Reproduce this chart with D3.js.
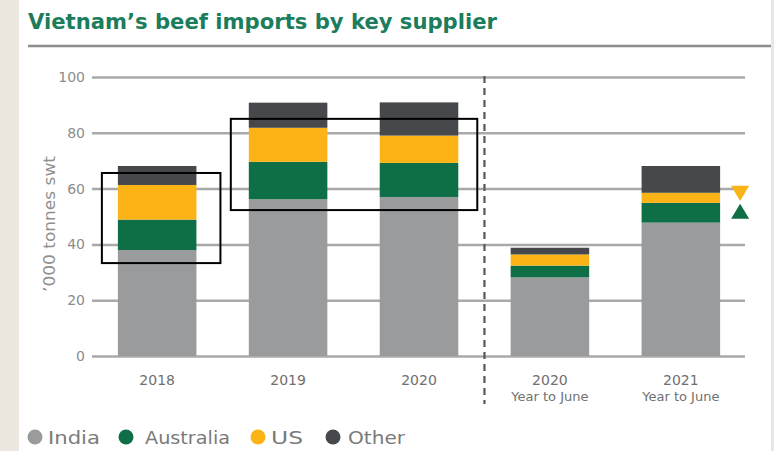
<!DOCTYPE html>
<html>
<head>
<meta charset="utf-8">
<script src="https://cdn.jsdelivr.net/npm/d3@7"></script>
<style>
  html, body { margin: 0; padding: 0; background: #fff; }
  svg { display: block; }
</style>
</head>
<body>
<svg id="chart" width="774" height="451"></svg>
<script>
// Vietnam's beef imports, '000 tonnes swt, stacked by supplier
const categories = ["2018", "2019", "2020", "2020|Year to June", "2021|Year to June"];
const suppliers = ["India", "Australia", "US", "Other"];
const india     = [38.0, 56.2, 57.0, 28.2, 47.8];
const australia = [10.9, 13.4, 12.2, 4.2, 7.1];
const us        = [12.4, 12.2, 9.8, 4.0, 3.6];
const other     = [6.8, 9.0, 11.9, 2.4, 9.6];
const yTicks = [0, 20, 40, 60, 80, 100];
const colors = ["#9a9b9d", "#0e6f47", "#fbb316", "#46484c"];

const W = 774, H = 451;
const svg = d3.select("#chart");
const font = "'DejaVu Sans', Verdana, sans-serif";

// page frame: beige side margins
svg.append("rect").attr("width", W).attr("height", H).attr("fill", "#fff");
svg.append("rect").attr("x", 0).attr("y", 0).attr("width", 19).attr("height", H).attr("fill", "#ebe7df");
svg.append("rect").attr("x", 771).attr("y", 0).attr("width", 3).attr("height", H).attr("fill", "#ebe7df");

// title and rule
svg.append("text")
  .attr("x", 28).attr("y", 29)
  .attr("font-family", font).attr("font-weight", "bold").attr("font-size", 22)
  .attr("fill", "#1b7d5c")
  .attr("textLength", 469).attr("lengthAdjust", "spacingAndGlyphs")
  .text("Vietnam\u2019s beef imports by key supplier");
svg.append("line")
  .attr("x1", 28).attr("x2", 771).attr("y1", 46).attr("y2", 46)
  .attr("stroke", "#8d8d8d").attr("stroke-width", 2.5);

// scales
const x = d3.scaleBand().domain(categories).range([93, 745]).paddingInner(0.4).paddingOuter(0.19);
const y = d3.scaleLinear().domain([0, 100]).range([356, 77]);

// gridlines + y tick labels via axis
const yAxis = svg.append("g")
  .attr("transform", "translate(92,0)")
  .call(d3.axisLeft(y).tickValues(yTicks).tickSize(-653).tickPadding(7));
yAxis.select(".domain").remove();
yAxis.selectAll(".tick line").attr("stroke", "#a9a9a9").attr("stroke-width", 2.5);
yAxis.selectAll(".tick text")
  .attr("font-family", font).attr("font-size", 14).attr("fill", "#8c8c8c");

// y axis title
svg.append("text")
  .attr("transform", "translate(55,224) rotate(-90)")
  .attr("text-anchor", "middle")
  .attr("font-family", font).attr("font-size", 15).attr("fill", "#909090")
  .attr("textLength", 136).attr("lengthAdjust", "spacingAndGlyphs")
  .text("\u2019000 tonnes swt");

// stacked bars
const rows = categories.map((c, i) => ({
  cat: c, India: india[i], Australia: australia[i], US: us[i], Other: other[i]
}));
const stacked = d3.stack().keys(suppliers)(rows);
svg.append("g").selectAll("g").data(stacked).join("g")
  .attr("fill", (d, i) => colors[i])
  .selectAll("rect").data(d => d).join("rect")
  .attr("x", d => x(d.data.cat))
  .attr("width", x.bandwidth())
  .attr("y", d => y(d[1]))
  .attr("height", d => y(d[0]) - y(d[1]));

// x category labels
const xl = svg.append("g");
categories.forEach(c => {
  const parts = c.split("|");
  const cx = x(c) + x.bandwidth() / 2;
  const t = xl.append("text")
    .attr("x", cx).attr("y", 385)
    .attr("text-anchor", "middle")
    .attr("font-family", font).attr("fill", "#707070");
  t.append("tspan").attr("x", cx).attr("font-size", 14).text(parts[0]);
  if (parts[1]) t.append("tspan").attr("x", cx).attr("dy", 16).attr("font-size", 13).text(parts[1]);
});

// dashed divider between full years and year-to-June
const divX = (x(categories[2]) + x.bandwidth() + x(categories[3])) / 2;
svg.append("line")
  .attr("x1", divX).attr("x2", divX).attr("y1", 76).attr("y2", 404)
  .attr("stroke", "#55575a").attr("stroke-width", 2.2)
  .attr("stroke-dasharray", "7,5");

// highlight boxes
const bw = x.bandwidth();
svg.append("rect")
  .attr("x", x(categories[0]) - 16).attr("y", y(65.6))
  .attr("width", bw + 40).attr("height", y(33.3) - y(65.6))
  .attr("fill", "none").attr("stroke", "#000").attr("stroke-width", 2);
svg.append("rect")
  .attr("x", x(categories[1]) - 18).attr("y", y(85))
  .attr("width", x(categories[2]) + bw + 19 - (x(categories[1]) - 18)).attr("height", y(52.3) - y(85))
  .attr("fill", "none").attr("stroke", "#000").attr("stroke-width", 2);

// change markers beside the 2021 bar: US down, Australia up
const mx = x(categories[4]) + bw + 20;
svg.append("path")
  .attr("d", `M${mx - 9},${y(61)} L${mx + 9},${y(61)} L${mx},${y(55.6)} Z`)
  .attr("fill", "#fbb316");
svg.append("path")
  .attr("d", `M${mx - 9},${y(49.2)} L${mx + 9},${y(49.2)} L${mx},${y(54.6)} Z`)
  .attr("fill", "#0e6f47");

// legend
const legX = [35, 126, 258, 333];
const legTx = [48, 145, 271, 348];
const legW = [52, 85, 32, 57];
const leg = svg.append("g");
suppliers.forEach((s, i) => {
  leg.append("circle").attr("cx", legX[i]).attr("cy", 437).attr("r", 7.5).attr("fill", colors[i]);
  leg.append("text")
    .attr("x", legTx[i]).attr("y", 444)
    .attr("font-family", font).attr("font-size", 17).attr("fill", "#7a7a7a")
    .attr("textLength", legW[i]).attr("lengthAdjust", "spacingAndGlyphs")
    .text(s);
});
</script>
</body>
</html>
